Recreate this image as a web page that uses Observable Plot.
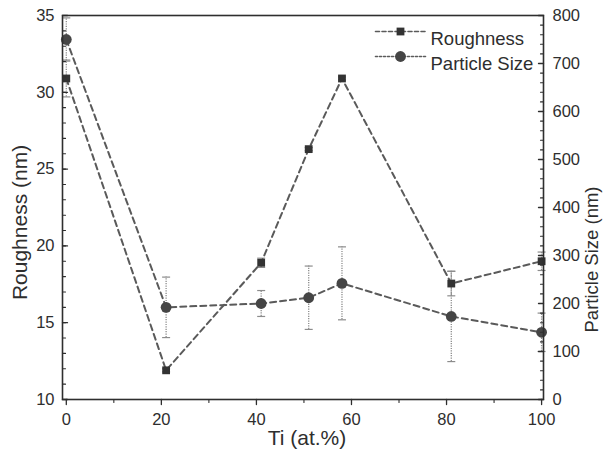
<!DOCTYPE html>
<html><head><meta charset="utf-8">
<script src="https://cdn.jsdelivr.net/npm/d3@7"></script>
<script src="https://cdn.jsdelivr.net/npm/@observablehq/plot@0.6"></script>
<style>
body{margin:0;background:#fff;}
#chart svg{font-family:"Liberation Sans",Arial,sans-serif;}
</style>
</head><body><div id="chart"></div>
<script>
// Data
const tiPercent = [0, 21, 41, 51, 58, 81, 100];
const roughness = [30.9, 11.9, 18.9, 26.3, 30.9, 17.55, 19.0];
const roughnessErr = [1.2, 0.1, 0.3, 0.1, 0.1, 0.8, 0.6];
const particleSize = [750, 192, 200, 212, 242, 173, 140];
const particleErr = [45, 63, 27, 66, 76, 94, 40];

const xTicks = [0, 20, 40, 60, 80, 100];
const xMinor = [10, 30, 50, 70, 90];
const roughTicks = [10, 15, 20, 25, 30, 35];
const roughMinor = d3.range(10, 36, 1);
const sizeTicks = [0, 100, 200, 300, 400, 500, 600, 700, 800];
const sizeMinor = d3.range(0, 801, 20);

const seriesNames = ["Roughness", "Particle Size"];

// particle size (0..800 nm) mapped onto the roughness scale (10..35 nm)
const toL = v => 10 + v / 32;
const rows = tiPercent.map((x, i) => ({
  x, r: roughness[i], re: roughnessErr[i],
  p: toL(particleSize[i]), pe: particleErr[i] / 32
}));

const ink = "#2e2e2e";
const lineCol = "#5a5a5a";
const errCol = "#8c8c8c";
const cap = {draw(ctx) { ctx.moveTo(-4, 0); ctx.lineTo(4, 0); }};
const seg = {draw(ctx, l) { ctx.moveTo(0, 0); ctx.lineTo(0, -l); }};
const font = "'Liberation Sans', Arial, sans-serif";

const tickMarks = (data, opts, len, w) =>
  Plot.vector(data, {...opts, length: len, anchor: "start", shape: seg, stroke: ink, strokeWidth: w});

const chart = Plot.plot({
  width: 604, height: 466,
  marginLeft: 62, marginRight: 61, marginTop: 15, marginBottom: 67,
  style: {fontFamily: font, fontSize: "16px", color: ink, background: "#fff"},
  x: {domain: [-0.8, 100.4], axis: null},
  y: {domain: [10, 35], axis: null},
  marks: [
    // error bars
    Plot.ruleX(rows, {x: "x", y1: d => d.r - d.re, y2: d => d.r + d.re, stroke: errCol, strokeWidth: 1.3, strokeDasharray: "1.2,1.2"}),
    Plot.ruleX(rows, {x: "x", y1: d => d.p - d.pe, y2: d => d.p + d.pe, stroke: errCol, strokeWidth: 1.3, strokeDasharray: "1.2,1.2"}),
    Plot.dot(rows, {x: "x", y: d => d.r - d.re, symbol: cap, stroke: errCol, strokeWidth: 1.2}),
    Plot.dot(rows, {x: "x", y: d => d.r + d.re, symbol: cap, stroke: errCol, strokeWidth: 1.2}),
    Plot.dot(rows, {x: "x", y: d => d.p - d.pe, symbol: cap, stroke: errCol, strokeWidth: 1.2}),
    Plot.dot(rows, {x: "x", y: d => d.p + d.pe, symbol: cap, stroke: errCol, strokeWidth: 1.2}),
    // lines
    Plot.line(rows, {x: "x", y: "r", stroke: lineCol, strokeWidth: 2, strokeDasharray: "6,4"}),
    Plot.line(rows, {x: "x", y: "p", stroke: lineCol, strokeWidth: 2, strokeDasharray: "6,4"}),
    // markers
    Plot.dot(rows, {x: "x", y: "r", symbol: "square", r: 4.4, fill: "#333", stroke: "none"}),
    Plot.dot(rows, {x: "x", y: "p", symbol: "circle", r: 5.4, fill: "#454545", stroke: "none"}),
    // frame
    Plot.frame({stroke: ink, strokeWidth: 1.6}),
    // ticks (inward on left/right, outward on bottom)
    tickMarks(roughTicks, {y: d => d, frameAnchor: "left", rotate: 90}, 5, 1.3),
    tickMarks(roughMinor, {y: d => d, frameAnchor: "left", rotate: 90}, 3, 1.1),
    tickMarks(sizeTicks, {y: d => toL(d), frameAnchor: "right", rotate: -90}, 5, 1.3),
    tickMarks(sizeMinor, {y: d => toL(d), frameAnchor: "right", rotate: -90}, 3, 1.1),
    tickMarks(xTicks, {x: d => d, frameAnchor: "bottom", rotate: 180}, 5, 1.3),
    tickMarks(xMinor, {x: d => d, frameAnchor: "bottom", rotate: 180}, 3, 1.1),
    // tick labels
    Plot.axisY({ticks: roughTicks, tickSize: 0, tickPadding: 8, tickFormat: d => String(d), label: null, fontSize: 16.5}),
    Plot.axisY({anchor: "right", ticks: sizeTicks.map(toL), tickSize: 0, tickPadding: 9, tickFormat: d => String(Math.round((d - 10) * 32)), label: null, fontSize: 16.5}),
    Plot.axisX({ticks: xTicks, tickSize: 0, tickPadding: 14, tickFormat: d => String(d), label: null, fontSize: 16.5}),
    // axis titles
    Plot.text(["Roughness (nm)"], {text: d => d, frameAnchor: "left", textAnchor: "middle", dx: -42, dy: 15, rotate: -90, fontSize: 21, fill: ink}),
    Plot.text(["Particle Size (nm)"], {text: d => d, frameAnchor: "right", textAnchor: "middle", dx: 49, dy: 52, rotate: -90, fontSize: 18.5, fill: ink}),
    Plot.text(["Ti (at.%)"], {text: d => d, frameAnchor: "bottom", textAnchor: "middle", dx: 4, dy: 45, fontSize: 21, fill: ink}),
    // legend
    Plot.vector([0], {frameAnchor: "top-right", dx: -168, dy: 16, length: 50, rotate: 90, anchor: "start", shape: seg, stroke: lineCol, strokeWidth: 1.6, strokeDasharray: "4,2.5"}),
    Plot.vector([0], {frameAnchor: "top-right", dx: -168, dy: 41, length: 50, rotate: 90, anchor: "start", shape: seg, stroke: lineCol, strokeWidth: 1.6, strokeDasharray: "2,2"}),
    Plot.dot([0], {frameAnchor: "top-right", dx: -143, dy: 16, symbol: "square", r: 4.4, fill: "#333"}),
    Plot.dot([0], {frameAnchor: "top-right", dx: -143, dy: 41, symbol: "circle", r: 5.4, fill: "#454545"}),
    Plot.text([seriesNames[0]], {text: d => d, frameAnchor: "top-right", dx: -113, dy: 16, textAnchor: "start", fontSize: 18.5, fill: ink}),
    Plot.text([seriesNames[1]], {text: d => d, frameAnchor: "top-right", dx: -113, dy: 41, textAnchor: "start", fontSize: 18.5, fill: ink})
  ]
});
document.getElementById("chart").appendChild(chart);
</script>
</body></html>
